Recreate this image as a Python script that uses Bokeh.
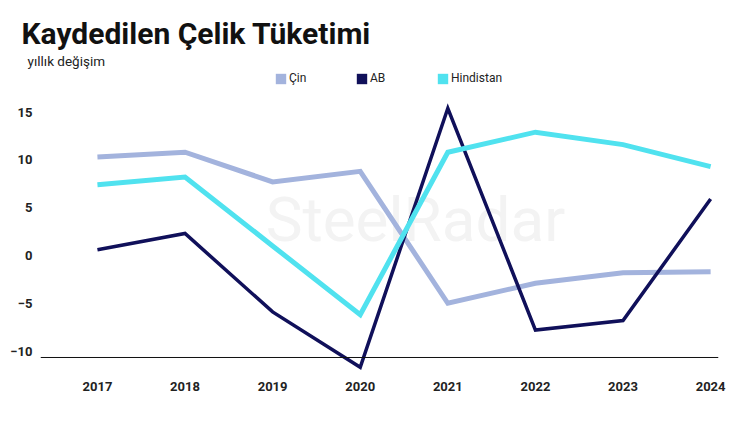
from bokeh.plotting import figure
from bokeh.models import Title, Legend, LegendItem, Span, Label, FixedTicker, Range1d
from bokeh.embed import file_html
from bokeh.resources import INLINE

# ---- data ----
years = [2017, 2018, 2019, 2020, 2021, 2022, 2023, 2024]
cin = [10.3, 10.8, 7.7, 8.8, -5.0, -2.9, -1.8, -1.7]
ab = [0.6, 2.3, -5.9, -11.7, 15.4, -7.8, -6.8, 5.9]
hindistan = [7.4, 8.2, 1.0, -6.2, 10.8, 12.9, 11.6, 9.3]
y_ticks = [-10, -5, 0, 5, 10, 15]
series_names = ["Çin", "AB", "Hindistan"]
colors = ["#a3b3dd", "#10105a", "#50e2ef"]

title_text = "Kaydedilen Çelik Tüketimi"
subtitle_text = "yıllık değişim"

nan = float("nan")

p = figure(width=740, height=434, output_backend="svg", toolbar_location=None,
           x_range=Range1d(2016.35, 2024.09), y_range=Range1d(-12.24, 19.56),
           min_border_left=40, min_border_right=22, min_border_top=68,
           min_border_bottom=62, outline_line_color=None, background_fill_color="white",
           border_fill_color="white")
p.title = None
p.grid.visible = False

# axes
p.xaxis.ticker = FixedTicker(ticks=years)
p.yaxis.ticker = FixedTicker(ticks=y_ticks)
for ax in (p.xaxis, p.yaxis):
    ax.axis_line_color = None
    ax.major_tick_line_color = None
    ax.minor_tick_line_color = None
    ax.major_label_text_font = "Roboto"
    ax.major_label_text_font_style = "bold"
    ax.major_label_text_font_size = "13px"
    ax.major_label_text_color = "#222222"
p.xaxis.major_label_standoff = 3
p.yaxis.major_label_standoff = 2

# watermark
p.add_layout(Label(x=2020.63, y=3.8, text="SteelRadar", text_font="Roboto",
                   text_font_size="62px", text_color="#f3f3f3", text_align="center",
                   text_baseline="middle", level="underlay"))

# baseline
p.add_layout(Span(location=-10.67, dimension="width", line_color="#111111", line_width=1))

# lines
widths = [5, 3.5, 5]
for vals, c, w in zip([cin, ab, hindistan], colors, widths):
    p.line(years, vals, line_color=c, line_width=w, line_join="miter")

# legend swatches (squares)
items = []
for name, c in zip(series_names, colors):
    r = p.quad(left=[nan], right=[nan], top=[nan], bottom=[nan], fill_color=c, line_color=None)
    items.append(LegendItem(label=name, renderers=[r]))
legend = Legend(items=items, orientation="horizontal", location=(234, 287),
                glyph_width=13, glyph_height=13, label_standoff=2, spacing=46,
                padding=0, margin=0, border_line_color=None, background_fill_alpha=0,
                label_text_font="Roboto", label_text_font_size="12px",
                label_text_color="#222222", label_height=13)
p.add_layout(legend, "center")

# titles
p.add_layout(Title(text=subtitle_text, align="left", offset=-13, text_font="Roboto",
                   text_font_size="13.5px", text_font_style="normal",
                   text_color="#222222", standoff=0), "above")
p.add_layout(Title(text=title_text, align="left", offset=-19, text_font="Roboto",
                   text_font_size="30px", text_font_style="bold",
                   text_color="#111111", standoff=0), "above")

open("out.html", "w").write(file_html(p, INLINE))
